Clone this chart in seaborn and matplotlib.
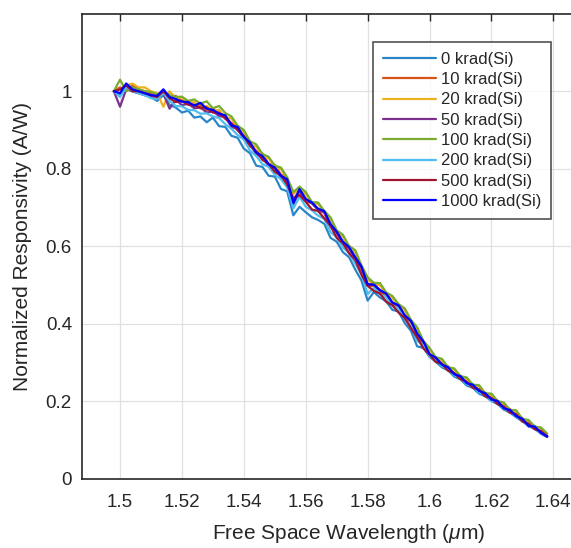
import matplotlib
matplotlib.use('Agg')
import matplotlib.pyplot as plt
import seaborn as sns
import numpy as np
import pandas as pd

# wavelength grid (um), 1.498 .. 1.638 step 0.002
wavelength = np.round(np.arange(1.498, 1.6381, 0.002), 3)

doses = ['0 krad(Si)', '10 krad(Si)', '20 krad(Si)', '50 krad(Si)',
         '100 krad(Si)', '200 krad(Si)', '500 krad(Si)', '1000 krad(Si)']

r_0 = [1.000, 0.990, 1.010, 1.000, 0.995, 0.990, 0.985, 0.975, 0.990, 0.965,
       0.958, 0.945, 0.950, 0.932, 0.935, 0.920, 0.932, 0.910, 0.908, 0.885,
       0.880, 0.852, 0.840, 0.808, 0.805, 0.782, 0.780, 0.748, 0.742, 0.680,
       0.702, 0.688, 0.675, 0.668, 0.658, 0.622, 0.612, 0.585, 0.572, 0.540,
       0.512, 0.460, 0.482, 0.468, 0.458, 0.436, 0.432, 0.402, 0.382, 0.342,
       0.338, 0.315, 0.302, 0.288, 0.280, 0.264, 0.257, 0.241, 0.235, 0.220,
       0.213, 0.201, 0.193, 0.179, 0.171, 0.159, 0.149, 0.136, 0.129, 0.117,
       0.108]
r_10 = [1.000, 1.010, 1.000, 1.015, 1.005, 1.000, 0.995, 0.990, 0.995, 0.985,
        0.988, 0.975, 0.975, 0.960, 0.964, 0.950, 0.956, 0.940, 0.938, 0.915,
        0.908, 0.876, 0.866, 0.845, 0.840, 0.812, 0.810, 0.785, 0.776, 0.722,
        0.742, 0.716, 0.712, 0.694, 0.686, 0.650, 0.636, 0.607, 0.596, 0.565,
        0.542, 0.498, 0.498, 0.480, 0.474, 0.450, 0.444, 0.415, 0.404, 0.368,
        0.350, 0.320, 0.314, 0.298, 0.290, 0.273, 0.266, 0.250, 0.244, 0.230,
        0.222, 0.208, 0.202, 0.186, 0.180, 0.166, 0.157, 0.141, 0.136, 0.122,
        0.112]
r_20 = [1.000, 1.005, 1.015, 1.020, 1.010, 1.010, 1.000, 0.995, 0.960, 1.000,
        0.982, 0.984, 0.970, 0.972, 0.955, 0.962, 0.950, 0.952, 0.932, 0.930,
        0.905, 0.895, 0.862, 0.858, 0.832, 0.828, 0.802, 0.800, 0.772, 0.735,
        0.748, 0.734, 0.710, 0.710, 0.686, 0.670, 0.634, 0.625, 0.594, 0.585,
        0.545, 0.515, 0.500, 0.500, 0.475, 0.467, 0.445, 0.435, 0.405, 0.388,
        0.353, 0.334, 0.312, 0.307, 0.286, 0.282, 0.263, 0.259, 0.241, 0.239,
        0.219, 0.217, 0.199, 0.194, 0.176, 0.174, 0.153, 0.149, 0.133, 0.130,
        0.114]
r_50 = [1.000, 0.960, 1.005, 1.000, 0.995, 0.990, 0.985, 0.980, 0.995, 0.955,
        0.978, 0.964, 0.968, 0.956, 0.958, 0.945, 0.948, 0.936, 0.933, 0.908,
        0.903, 0.876, 0.863, 0.838, 0.829, 0.808, 0.801, 0.778, 0.768, 0.708,
        0.743, 0.718, 0.711, 0.694, 0.688, 0.654, 0.635, 0.608, 0.595, 0.568,
        0.545, 0.501, 0.503, 0.486, 0.478, 0.454, 0.447, 0.420, 0.407, 0.373,
        0.353, 0.320, 0.312, 0.293, 0.287, 0.268, 0.264, 0.245, 0.242, 0.225,
        0.220, 0.203, 0.200, 0.180, 0.177, 0.160, 0.154, 0.135, 0.134, 0.117,
        0.109]
r_100 = [1.000, 1.030, 1.000, 1.010, 1.005, 1.000, 0.998, 0.992, 1.000, 0.990,
         0.985, 0.986, 0.975, 0.979, 0.968, 0.974, 0.956, 0.962, 0.944, 0.935,
         0.911, 0.900, 0.871, 0.863, 0.838, 0.831, 0.808, 0.803, 0.778, 0.740,
         0.754, 0.740, 0.714, 0.713, 0.691, 0.675, 0.641, 0.630, 0.601, 0.590,
         0.551, 0.520, 0.506, 0.505, 0.481, 0.472, 0.451, 0.440, 0.410, 0.391,
         0.356, 0.338, 0.314, 0.310, 0.288, 0.285, 0.265, 0.262, 0.243, 0.242,
         0.221, 0.220, 0.201, 0.197, 0.178, 0.177, 0.155, 0.152, 0.135, 0.133,
         0.117]
r_200 = [1.000, 0.985, 1.010, 1.000, 0.995, 0.990, 0.982, 0.980, 0.995, 0.975,
         0.962, 0.961, 0.952, 0.951, 0.942, 0.943, 0.935, 0.931, 0.915, 0.903,
         0.887, 0.875, 0.847, 0.833, 0.812, 0.805, 0.785, 0.773, 0.752, 0.698,
         0.728, 0.702, 0.693, 0.679, 0.671, 0.637, 0.623, 0.597, 0.583, 0.555,
         0.528, 0.477, 0.493, 0.477, 0.468, 0.447, 0.439, 0.413, 0.395, 0.357,
         0.345, 0.317, 0.308, 0.291, 0.285, 0.267, 0.262, 0.244, 0.240, 0.223,
         0.218, 0.202, 0.198, 0.180, 0.176, 0.160, 0.153, 0.136, 0.133, 0.117,
         0.112]
r_500 = [1.000, 1.005, 1.015, 1.000, 1.000, 0.995, 0.990, 0.985, 1.000, 0.982,
         0.972, 0.975, 0.965, 0.965, 0.957, 0.958, 0.945, 0.945, 0.929, 0.918,
         0.899, 0.885, 0.859, 0.845, 0.823, 0.813, 0.792, 0.783, 0.759, 0.723,
         0.732, 0.715, 0.695, 0.691, 0.672, 0.653, 0.622, 0.608, 0.582, 0.565,
         0.527, 0.498, 0.485, 0.478, 0.457, 0.448, 0.429, 0.415, 0.389, 0.365,
         0.337, 0.321, 0.302, 0.297, 0.279, 0.273, 0.257, 0.251, 0.235, 0.231,
         0.213, 0.209, 0.193, 0.187, 0.171, 0.167, 0.148, 0.143, 0.128, 0.124,
         0.110]
r_1000 = [1.000, 0.995, 1.020, 1.005, 1.000, 0.995, 0.990, 0.988, 1.005, 0.985,
          0.980, 0.973, 0.972, 0.963, 0.970, 0.955, 0.952, 0.942, 0.938, 0.912,
          0.908, 0.882, 0.868, 0.842, 0.833, 0.812, 0.803, 0.782, 0.773, 0.712,
          0.748, 0.722, 0.713, 0.697, 0.691, 0.657, 0.638, 0.612, 0.598, 0.572,
          0.548, 0.502, 0.501, 0.487, 0.478, 0.455, 0.448, 0.422, 0.408, 0.375,
          0.355, 0.322, 0.313, 0.295, 0.288, 0.270, 0.265, 0.247, 0.243, 0.227,
          0.221, 0.205, 0.201, 0.182, 0.178, 0.162, 0.155, 0.137, 0.135, 0.119,
          0.110]

responsivity = [r_0, r_10, r_20, r_50, r_100, r_200, r_500, r_1000]

x_ticks = [1.5, 1.52, 1.54, 1.56, 1.58, 1.6, 1.62, 1.64]
x_ticklabels = ['1.5', '1.52', '1.54', '1.56', '1.58', '1.6', '1.62', '1.64']
y_ticks = [0, 0.2, 0.4, 0.6, 0.8, 1]
y_ticklabels = ['0', '0.2', '0.4', '0.6', '0.8', '1']

colors = ['#2a85c8', '#D95319', '#EDB120', '#7E2F8E',
          '#77AC30', '#4DBEEE', '#A2142F', '#0000FF']

frames = []
for dose, vals in zip(doses, responsivity):
    frames.append(pd.DataFrame({'wl': wavelength, 'resp': vals, 'dose': dose}))
df = pd.concat(frames, ignore_index=True)

sns.set_style('white')
plt.rcParams['font.family'] = ['Liberation Sans', 'DejaVu Sans']
plt.rcParams['mathtext.fontset'] = 'custom'
plt.rcParams['mathtext.it'] = 'Liberation Sans:italic'
plt.rcParams['mathtext.rm'] = 'Liberation Sans'

fig = plt.figure(figsize=(5.71, 5.48), dpi=100)
ax = fig.add_axes([0.143, 0.126, 0.9345, 0.849])

sns.lineplot(data=df, x='wl', y='resp', hue='dose', hue_order=doses,
             palette=colors, estimator=None, sort=False, linewidth=1.6, ax=ax)

ax.set_xlim(1.4876, 1.66)
ax.set_ylim(0, 1.2)
ax.set_xticks(x_ticks)
ax.set_xticklabels(x_ticklabels)
ax.set_yticks(y_ticks)
ax.set_yticklabels(y_ticklabels)

ax.grid(True, color='#e0e0e0', linewidth=0.9)
ax.set_axisbelow(True)
for side in ['left', 'bottom', 'top', 'right']:
    ax.spines[side].set_color('#262626')
    ax.spines[side].set_linewidth(1.2)

ax.tick_params(axis='both', direction='in', length=5, width=1.0,
               colors='#262626', labelsize=13.5, top=True, right=True)
ax.tick_params(axis='x', pad=11)
ax.tick_params(axis='y', pad=7)

ax.set_xlabel(r'Free Space Wavelength ($\mu$m)', fontsize=15, color='#262626', labelpad=8)
ax.set_ylabel('Normalized Responsivity (A/W)', fontsize=15, color='#262626', labelpad=10)

leg = ax.legend(loc='upper right', bbox_to_anchor=(0.8795, 0.9398), borderaxespad=0,
                fontsize=12, frameon=True, fancybox=False, edgecolor='#262626',
                handlelength=3.2, handletextpad=0.25, labelspacing=0.32,
                borderpad=0.6, title=None)
leg.get_frame().set_linewidth(1.2)
for line in leg.get_lines():
    line.set_linewidth(1.6)

fig.savefig('out.png', dpi=100)
